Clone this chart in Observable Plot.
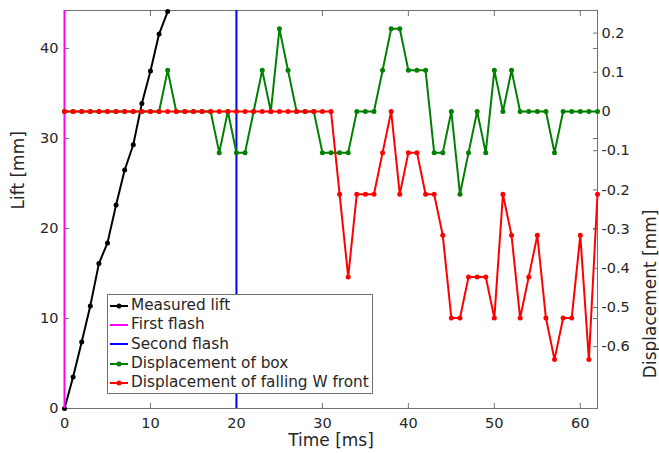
<!DOCTYPE html>
<html>
<head>
<meta charset="utf-8">
<script src="https://cdn.jsdelivr.net/npm/d3@7"></script>
<script src="https://cdn.jsdelivr.net/npm/@observablehq/plot@0.6"></script>
<style>
  body { margin: 0; background: #fff; }
  #chart { position: relative; width: 659px; height: 453px; font-family: "DejaVu Sans", sans-serif; color: #262626; }
  .legend {
    position: absolute; left: 107px; top: 294px; width: 266px; height: 100px;
    box-sizing: border-box; border: 1px solid #707070; background: #fff;
    padding-top: 1px; font-size: 15.3px; line-height: 19.3px; color: #262626;
  }
  .legend .row { display: flex; align-items: center; height: 19.3px; white-space: nowrap; }
  .legend svg { margin-left: 2px; margin-right: 3px; flex: none; }
</style>
</head>
<body>
<div id="chart"></div>
<script>
// Lift of the tungsten sample (left axis, mm)
const liftTime = [0, 1, 2, 3, 4, 5, 6, 7, 8, 9, 10, 11, 12];
const liftValues = [0, 3.5, 7.4, 11.4, 16.1, 18.4, 22.6, 26.5, 29.3, 33.9, 37.5, 41.6, 44.1];

// Flash times (ms)
const firstFlash = [0];
const secondFlash = [20];

// Displacement series (right axis, mm), sampled every millisecond
const dispTime = [0, 1, 2, 3, 4, 5, 6, 7, 8, 9, 10, 11, 12, 13, 14, 15, 16, 17, 18, 19, 20,
  21, 22, 23, 24, 25, 26, 27, 28, 29, 30, 31, 32, 33, 34, 35, 36, 37, 38, 39, 40,
  41, 42, 43, 44, 45, 46, 47, 48, 49, 50, 51, 52, 53, 54, 55, 56, 57, 58, 59, 60, 61, 62];
const boxDisp = [0, 0, 0, 0, 0, 0, 0, 0, 0, 0, 0, 0, 0.105, 0, 0, 0, 0, 0, -0.105, 0, -0.105,
  -0.105, 0, 0.105, 0, 0.211, 0.105, 0, 0, 0, -0.105, -0.105, -0.105, -0.105, 0, 0, 0, 0.105, 0.211, 0.211, 0.105,
  0.105, 0.105, -0.105, -0.105, 0, -0.211, -0.105, 0, -0.105, 0.105, 0, 0.105, 0, 0, 0, 0, -0.105, 0, 0, 0, 0, 0];
const frontDisp = [0, 0, 0, 0, 0, 0, 0, 0, 0, 0, 0, 0, 0, 0, 0, 0, 0, 0, 0, 0, 0,
  0, 0, 0, 0, 0, 0, 0, 0, 0, 0, 0, -0.211, -0.422, -0.211, -0.211, -0.211, -0.105, 0, -0.211, -0.105,
  -0.105, -0.211, -0.211, -0.316, -0.527, -0.527, -0.422, -0.422, -0.422, -0.527, -0.211, -0.316, -0.527, -0.422, -0.316, -0.527, -0.633, -0.527, -0.527, -0.316, -0.633, -0.211];

// Axis ticks
const timeTicks = [0, 10, 20, 30, 40, 50, 60];
const liftTicks = [0, 10, 20, 30, 40];
const dispTicks = [0.2, 0.1, 0, -0.1, -0.2, -0.3, -0.4, -0.5, -0.6];

// Legend entries
const legendNames = ["Measured lift", "First flash", "Second flash", "Displacement of box", "Displacement of falling W front"];
const legendColors = ["#000000", "#ff00ff", "#0000ff", "#008000", "#ff0000"];
const legendDots = [true, false, false, true, true];

// Both y axes share one scale: displacement is mapped onto the lift range
const LIFT_MAX = 44.22;
const DISP_MIN = -0.7577, DISP_MAX = 0.2577;
const toLift = d => (d - DISP_MIN) / (DISP_MAX - DISP_MIN) * LIFT_MAX;
const fromLift = v => v / LIFT_MAX * (DISP_MAX - DISP_MIN) + DISP_MIN;
const dispFormat = v => String(Math.round(fromLift(v) * 10) / 10);

const lift = liftTime.map((t, i) => ({t, v: liftValues[i]}));
const box = dispTime.map((t, i) => ({t, v: toLift(boxDisp[i])}));
const front = dispTime.map((t, i) => ({t, v: toLift(frontDisp[i])}));

const axisColor = "#707070";

const chart = Plot.plot({
  width: 659,
  height: 453,
  marginLeft: 64,
  marginRight: 62,
  marginTop: 10,
  marginBottom: 45,
  style: {fontFamily: "DejaVu Sans, sans-serif", fontSize: "14.5px", color: "#262626", background: "#fff"},
  x: {domain: [0, 62]},
  y: {domain: [0, LIFT_MAX]},
  marks: [
    // box and inward ticks on all four sides
    Plot.frame({stroke: axisColor}),
    Plot.axisX(timeTicks, {tickSize: -5, tickPadding: 14, label: null, stroke: axisColor}),
    Plot.axisX(timeTicks, {anchor: "top", tickSize: -5, tickFormat: () => "", label: null, stroke: axisColor}),
    Plot.axisY(liftTicks, {tickSize: -5, tickPadding: 11, label: null, stroke: axisColor}),
    Plot.axisY(liftTicks, {anchor: "right", tickSize: -5, tickFormat: () => "", label: null, stroke: axisColor}),
    Plot.axisY(dispTicks.map(toLift), {anchor: "right", tickSize: -5, tickPadding: 9, tickFormat: dispFormat, label: null, stroke: axisColor}),
    // data
    Plot.line(lift, {x: "t", y: "v", stroke: legendColors[0], strokeWidth: 2}),
    Plot.dot(lift, {x: "t", y: "v", r: 2.5, fill: legendColors[0]}),
    Plot.ruleX(firstFlash, {stroke: legendColors[1], strokeWidth: 2}),
    Plot.ruleX(secondFlash, {stroke: legendColors[2], strokeWidth: 2}),
    Plot.line(box, {x: "t", y: "v", stroke: legendColors[3], strokeWidth: 2}),
    Plot.dot(box, {x: "t", y: "v", r: 2.5, fill: legendColors[3]}),
    Plot.line(front, {x: "t", y: "v", stroke: legendColors[4], strokeWidth: 2}),
    Plot.dot(front, {x: "t", y: "v", r: 2.5, fill: legendColors[4]}),
    // axis titles
    Plot.text(["Time [ms]"], {frameAnchor: "bottom", dy: 37, text: d => d, fontSize: 17, fill: "#262626"}),
    Plot.text(["Lift [mm]"], {frameAnchor: "left", dx: -45.5, rotate: -90, text: d => d, fontSize: 17, fill: "#262626"}),
    Plot.text(["Displacement [mm]"], {frameAnchor: "right", dx: 53.5, rotate: -90, text: d => d, fontSize: 17, fill: "#262626"})
  ]
});

const container = document.getElementById("chart");
container.appendChild(chart);

// Legend box inside the plot area
const legend = document.createElement("div");
legend.className = "legend";
legendNames.forEach((name, i) => {
  const row = document.createElement("div");
  row.className = "row";
  const dot = legendDots[i] ? `<circle cx="9" cy="5" r="2.5" fill="${legendColors[i]}"/>` : "";
  row.innerHTML = `<svg width="18" height="10"><line x1="0" x2="18" y1="5" y2="5" stroke="${legendColors[i]}" stroke-width="2"/>${dot}</svg><span>${name}</span>`;
  legend.appendChild(row);
});
container.appendChild(legend);
</script>
</body>
</html>
